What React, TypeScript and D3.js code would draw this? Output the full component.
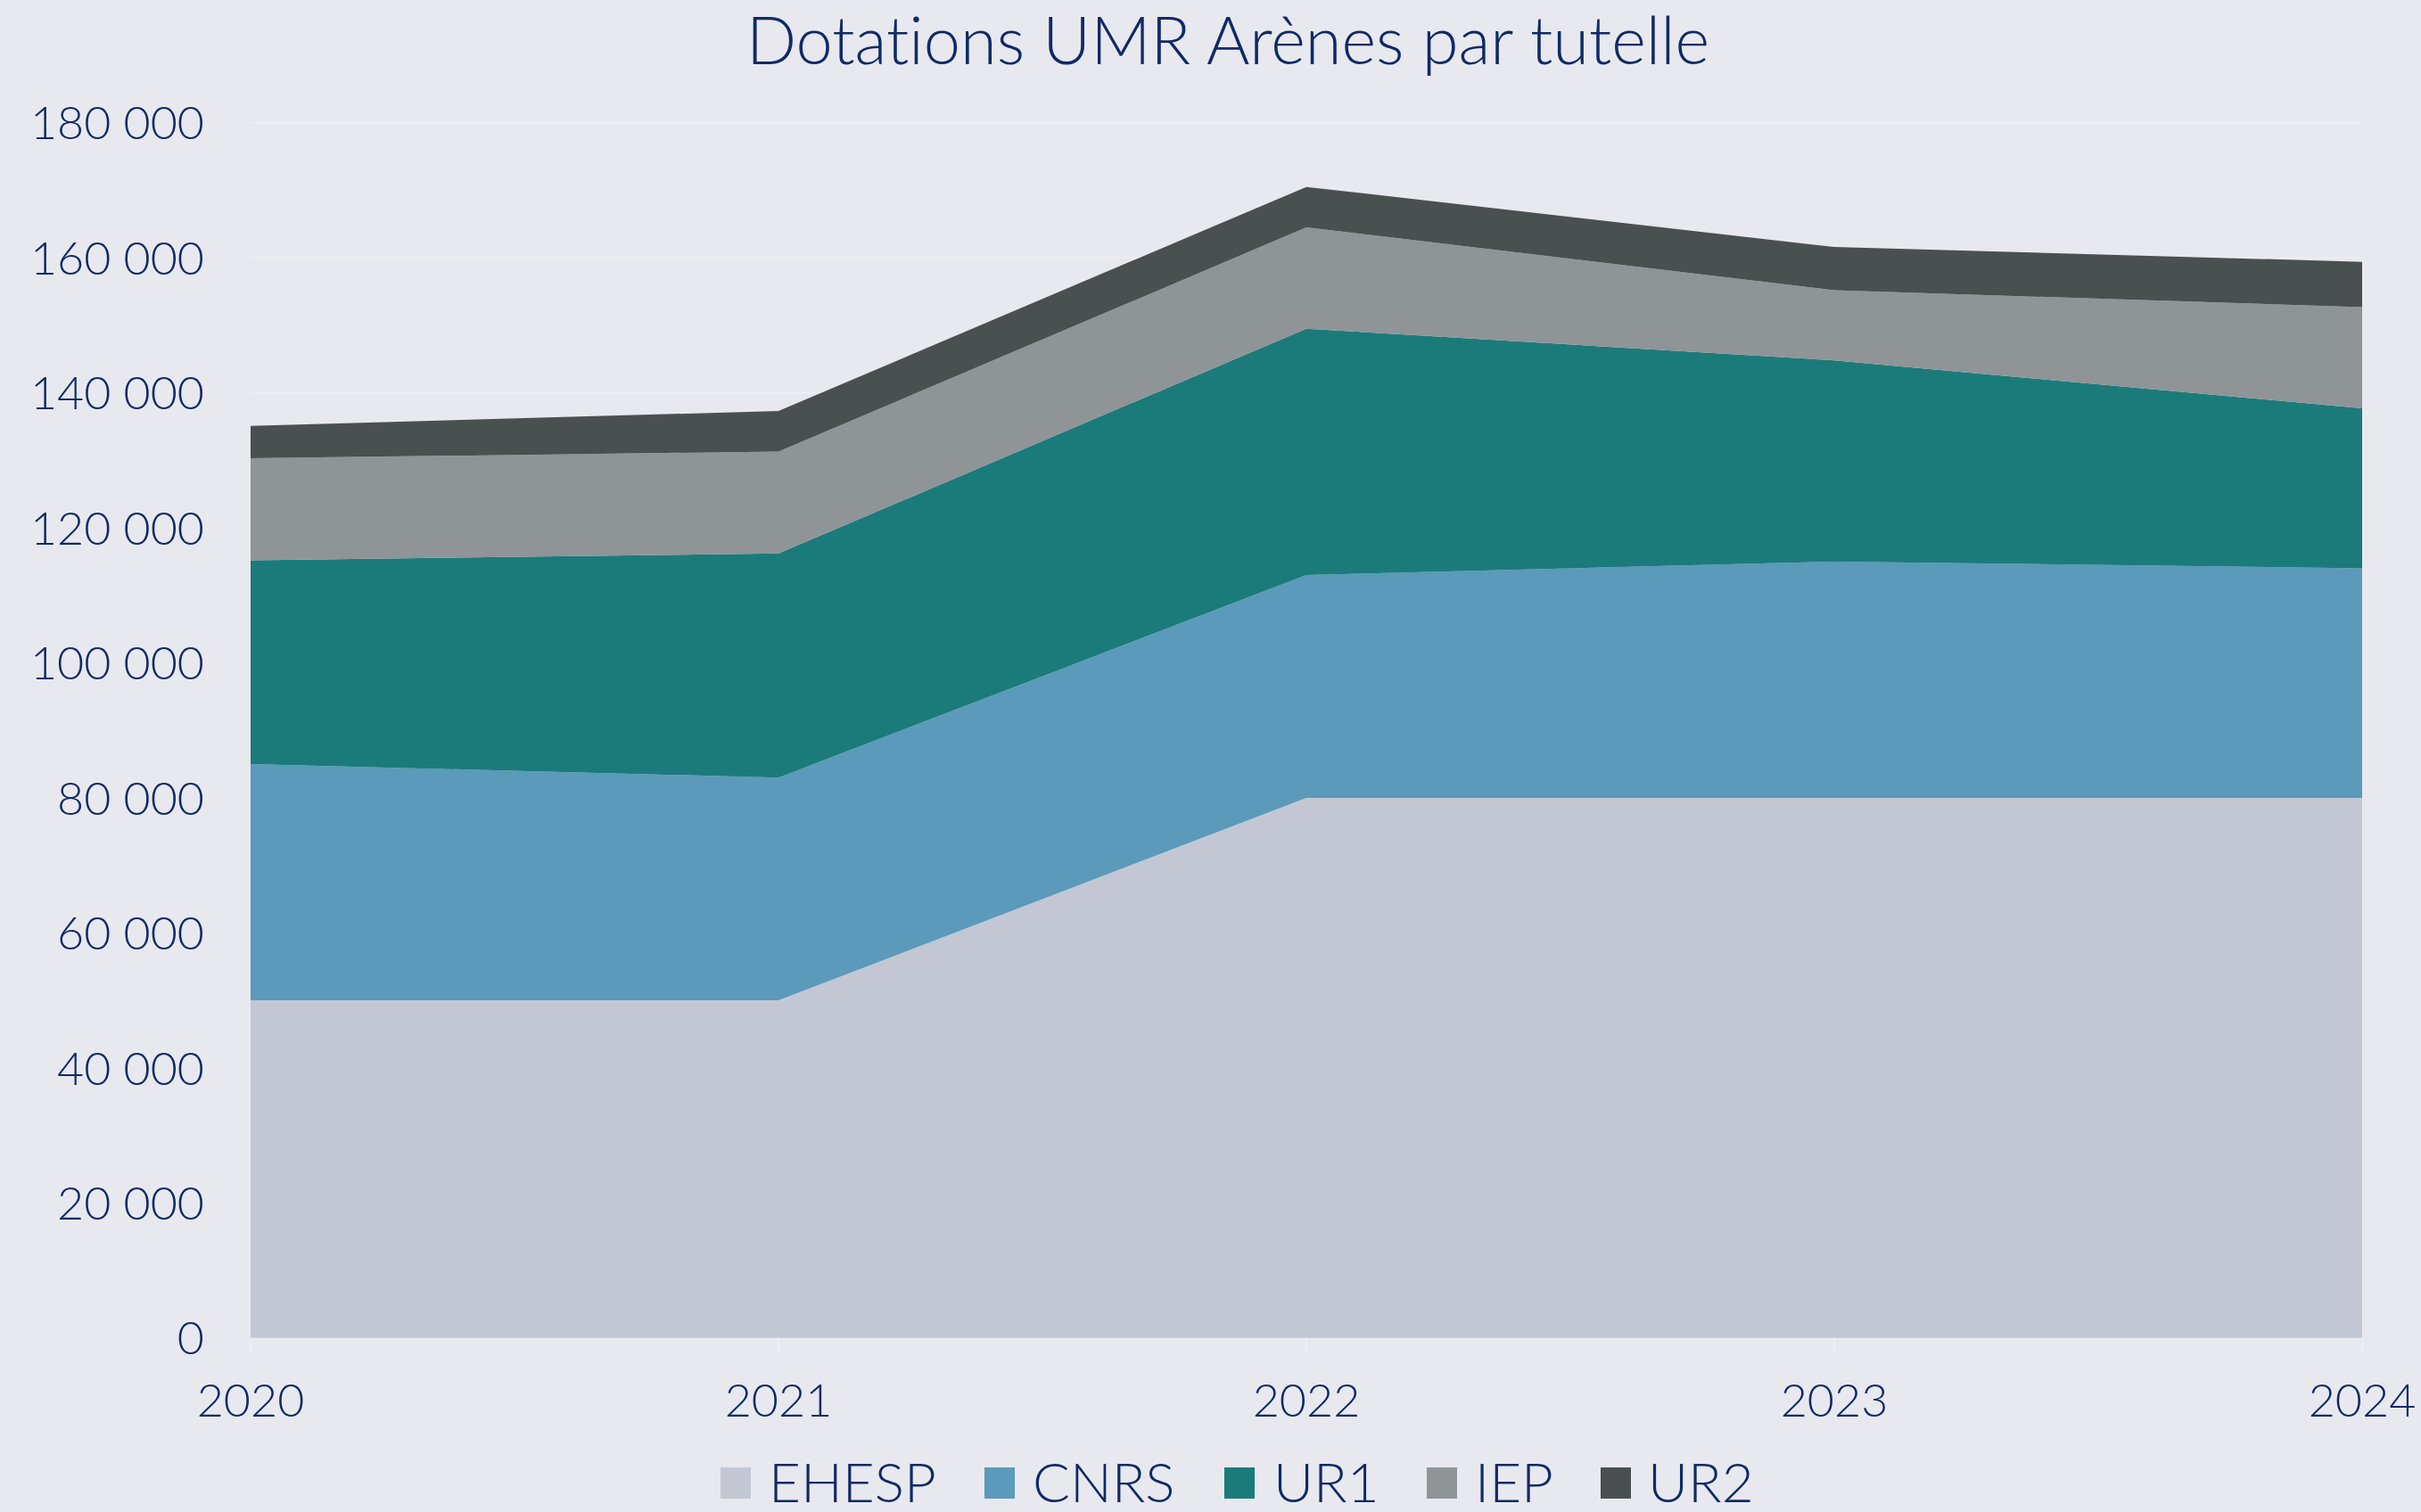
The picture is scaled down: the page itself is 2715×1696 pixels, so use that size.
import React from "react";
import * as d3 from "d3";

const years = ["2020", "2021", "2022", "2023", "2024"];
const seriesNames = ["EHESP", "CNRS", "UR1", "IEP", "UR2"];
const EHESP = [50000, 50000, 80000, 80000, 80000];
const CNRS = [35000, 33000, 33000, 35000, 34000];
const UR1 = [30200, 33200, 36500, 29800, 23700];
const IEP = [15100, 15100, 15000, 10400, 15000];
const UR2 = [4800, 6000, 6000, 6400, 6700];
const colors = ["#c3c7d3", "#5b9aba", "#1b7b7b", "#8f9497", "#4a5050"];
const yTicks = [0, 20000, 40000, 60000, 80000, 100000, 120000, 140000, 160000, 180000];
const title = "Dotations UMR Arènes par tutelle";

const W = 2715;
const H = 1696;
const left = 281;
const right = 2649;
const top = 137.7;
const bottom = 1500.7;
const textColor = "#0f2a68";
const font = "Lato, 'Noto Sans', sans-serif";

export default function App() {
  const values = [EHESP, CNRS, UR1, IEP, UR2];
  const rows = years.map((y, i) => {
    const r: any = { year: y };
    seriesNames.forEach((s, k) => (r[s] = values[k][i]));
    return r;
  });
  const stack = d3.stack().keys(seriesNames)(rows as any);
  const x = d3.scalePoint().domain(years).range([left, right]);
  const y = d3.scaleLinear().domain([0, 180000]).range([bottom, top]);
  const area = d3
    .area<any>()
    .x((d: any) => x(d.data.year) as number)
    .y0((d: any) => y(d[0]))
    .y1((d: any) => y(d[1]));
  const fmt = (v: number) => d3.format(",")(v).replace(/,/g, " ");

  const legendItems = [
    { name: "EHESP", sx: 808, tx: 862 },
    { name: "CNRS", sx: 1104, tx: 1158 },
    { name: "UR1", sx: 1373, tx: 1428 },
    { name: "IEP", sx: 1600, tx: 1654 },
    { name: "UR2", sx: 1795, tx: 1848 },
  ];

  const textStyle = { fontVariantLigatures: "none" as const };

  return (
    <svg
      width={W}
      height={H}
      style={{ position: "absolute", left: 0, top: 0, background: "#e8e9ee" }}
    >
      <rect x={0} y={0} width={W} height={H} fill="#e8e9ee" />
      <text
        x={1377}
        y={72}
        textAnchor="middle"
        fontFamily={font}
        fontWeight={300}
        fontSize={74}
        fill={textColor}
        style={textStyle}
      >
        {title}
      </text>
      {yTicks.map((t) => (
        <g key={t}>
          <line x1={left} x2={right} y1={y(t)} y2={y(t)} stroke="#edeef0" strokeWidth={2} />
          <text
            x={229}
            y={y(t)}
            dy="0.36em"
            textAnchor="end"
            fontFamily={font}
            fontWeight={300}
            fontSize={52}
            fill={textColor}
            style={textStyle}
          >
            {fmt(t)}
          </text>
        </g>
      ))}
      {stack.map((s, k) => (
        <path key={seriesNames[k]} d={area(s as any) as string} fill={colors[k]} />
      ))}
      {years.map((yr) => (
        <g key={yr}>
          <line
            x1={x(yr)}
            x2={x(yr)}
            y1={bottom}
            y2={bottom + 18}
            stroke="#edeef0"
            strokeWidth={2}
          />
          <text
            x={x(yr)}
            y={1589}
            textAnchor="middle"
            fontFamily={font}
            fontWeight={300}
            fontSize={52}
            fill={textColor}
            style={textStyle}
          >
            {yr}
          </text>
        </g>
      ))}
      {legendItems.map((it, k) => (
        <g key={it.name}>
          <rect x={it.sx} y={1646} width={34} height={35} fill={colors[k]} />
          <text
            x={it.tx}
            y={1685}
            fontFamily={font}
            fontWeight={300}
            fontSize={62}
            fill={textColor}
            style={textStyle}
          >
            {it.name}
          </text>
        </g>
      ))}
    </svg>
  );
}
